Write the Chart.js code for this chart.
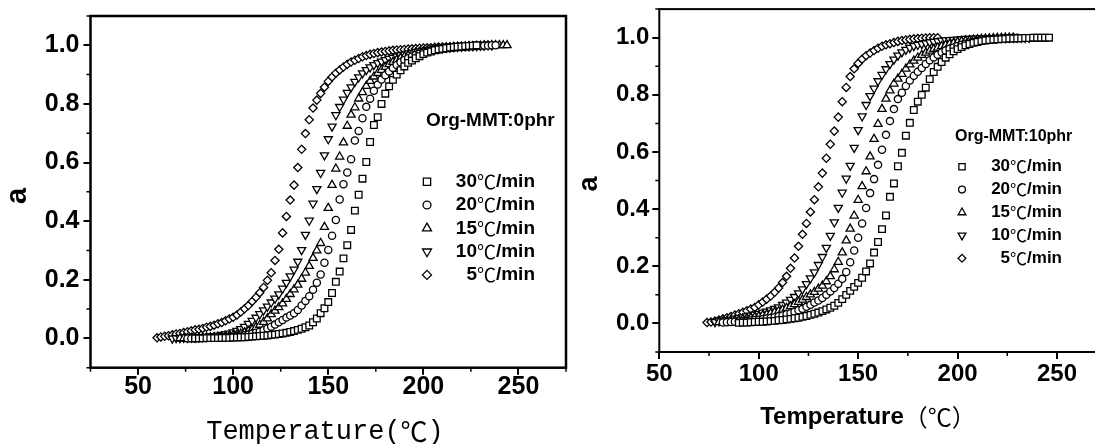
<!DOCTYPE html>
<html>
<head>
<meta charset="utf-8">
<script src="https://cdn.jsdelivr.net/npm/chart.js@4.4.1/dist/chart.umd.min.js"></script>
<style>
  html, body { margin: 0; padding: 0; background: #fff; overflow: hidden; width: 1095px; height: 444px; }
  canvas { position: absolute; top: 0; }
  #left { left: 0; }
  #right { left: 575px; }
</style>
</head>
<body>
<canvas id="left" width="575" height="444"></canvas>
<canvas id="right" width="545" height="444"></canvas>
<script>
// DADES
const rateLabels = ["30℃/min", "20℃/min", "15℃/min", "10℃/min", "5℃/min"];

// panell esquerre: Org-MMT 0phr
const tempLeft = [
  60, 62, 64, 66, 68, 70, 72, 74, 76, 78,
  80, 82, 84, 86, 88, 90, 92, 94, 96, 98,
  100, 102, 104, 106, 108, 110, 112, 114, 116, 118,
  120, 122, 124, 126, 128, 130, 132, 134, 136, 138,
  140, 142, 144, 146, 148, 150, 152, 154, 156, 158,
  160, 162, 164, 166, 168, 170, 172, 174, 176, 178,
  180, 182, 184, 186, 188, 190, 192, 194, 196, 198,
  200, 202, 204, 206, 208, 210, 212, 214, 216, 218,
  220, 222, 224, 226, 228, 230, 232, 234, 236, 238,
  240, 242, 244
];
const left30 = [
  null, null, null, null, null, null, null, null, null, null,
  0.000, 0.000, 0.000, 0.001, 0.001, 0.001, 0.001, 0.002, 0.002, 0.002,
  0.003, 0.003, 0.004, 0.004, 0.005, 0.006, 0.007, 0.008, 0.009, 0.010,
  0.012, 0.013, 0.015, 0.017, 0.019, 0.022, 0.025, 0.029, 0.033, 0.038,
  0.044, 0.055, 0.068, 0.086, 0.103, 0.124, 0.155, 0.193, 0.228, 0.273,
  0.318, 0.370, 0.436, 0.490, 0.545, 0.602, 0.670, 0.728, 0.755, 0.800,
  0.835, 0.860, 0.882, 0.900, 0.915, 0.928, 0.940, 0.948, 0.956, 0.963,
  0.970, 0.975, 0.979, 0.983, 0.986, 0.988, 0.990, 0.992, 0.994, 0.995,
  0.996, 0.997, 0.998, 0.999, 1.000, null, null, null, null, null,
  null, null, null
];
const left20 = [
  null, null, null, null, null, null, null, null, 0.000, 0.000,
  0.000, 0.001, 0.001, 0.001, 0.002, 0.002, 0.003, 0.003, 0.004, 0.005,
  0.006, 0.007, 0.009, 0.011, 0.013, 0.016, 0.019, 0.023, 0.028, 0.034,
  0.040, 0.047, 0.055, 0.063, 0.071, 0.078, 0.086, 0.097, 0.112, 0.128,
  0.144, 0.166, 0.190, 0.218, 0.258, 0.302, 0.350, 0.404, 0.474, 0.526,
  0.566, 0.611, 0.675, 0.708, 0.751, 0.790, 0.818, 0.845, 0.866, 0.883,
  0.898, 0.911, 0.923, 0.933, 0.942, 0.950, 0.956, 0.962, 0.967, 0.971,
  0.975, 0.978, 0.981, 0.984, 0.986, 0.988, 0.990, 0.991, 0.992, 0.993,
  0.994, 0.995, 0.996, 0.997, 0.998, 0.998, 0.999, 0.999, 1.000, 1.000,
  null, null, null
];
const left15 = [
  null, null, null, null, null, null, 0.000, 0.000, 0.001, 0.001,
  0.001, 0.002, 0.002, 0.003, 0.003, 0.004, 0.005, 0.006, 0.007, 0.009,
  0.011, 0.013, 0.016, 0.020, 0.025, 0.031, 0.038, 0.046, 0.056, 0.068,
  0.082, 0.094, 0.106, 0.119, 0.134, 0.151, 0.167, 0.183, 0.203, 0.224,
  0.247, 0.274, 0.300, 0.325, 0.380, 0.445, 0.523, 0.579, 0.620, 0.668,
  0.725, 0.763, 0.788, 0.818, 0.840, 0.861, 0.878, 0.893, 0.905, 0.916,
  0.926, 0.935, 0.943, 0.950, 0.956, 0.961, 0.965, 0.969, 0.973, 0.976,
  0.979, 0.982, 0.984, 0.986, 0.988, 0.989, 0.990, 0.992, 0.993, 0.994,
  0.995, 0.996, 0.997, 0.997, 0.998, 0.998, 0.999, 0.999, 1.000, 1.000,
  1.000, 1.000, 1.000
];
const left10 = [
  null, null, null, null, 0.000, 0.001, 0.001, 0.002, 0.002, 0.003,
  0.003, 0.004, 0.005, 0.006, 0.007, 0.008, 0.010, 0.012, 0.014, 0.017,
  0.021, 0.026, 0.032, 0.040, 0.050, 0.060, 0.071, 0.083, 0.096, 0.109,
  0.123, 0.136, 0.151, 0.170, 0.190, 0.212, 0.235, 0.262, 0.302, 0.354,
  0.402, 0.460, 0.510, 0.565, 0.625, 0.680, 0.723, 0.762, 0.790, 0.815,
  0.838, 0.857, 0.876, 0.891, 0.905, 0.916, 0.925, 0.933, 0.940, 0.945,
  0.950, 0.954, 0.958, 0.962, 0.966, 0.969, 0.972, 0.975, 0.978, 0.980,
  0.982, 0.984, 0.986, 0.988, 0.989, 0.990, 0.992, 0.993, 0.994, 0.995,
  0.996, 0.997, 0.997, 0.998, 0.998, 0.999, 0.999, 1.000, 1.000, null,
  null, null, null
];
const left5 = [
  0.002, 0.005, 0.007, 0.009, 0.012, 0.015, 0.017, 0.020, 0.023, 0.026,
  0.029, 0.031, 0.034, 0.038, 0.041, 0.045, 0.050, 0.054, 0.060, 0.066,
  0.072, 0.080, 0.090, 0.101, 0.112, 0.126, 0.140, 0.156, 0.174, 0.198,
  0.224, 0.266, 0.304, 0.360, 0.416, 0.472, 0.523, 0.583, 0.645, 0.699,
  0.746, 0.786, 0.813, 0.836, 0.857, 0.877, 0.892, 0.905, 0.916, 0.926,
  0.935, 0.943, 0.949, 0.955, 0.961, 0.965, 0.969, 0.972, 0.975, 0.977,
  0.979, 0.981, 0.983, 0.984, 0.985, 0.986, 0.987, 0.988, 0.989, 0.990,
  0.991, 0.992, 0.992, 0.993, 0.994, 0.994, 0.995, 0.995, 0.996, 0.996,
  0.997, 0.997, 0.998, 0.998, 0.999, 0.999, 1.000, 1.000, 1.000, null,
  null, null, null
];

// panell dret: Org-MMT 10phr
const tempRight = [
  74, 76, 78, 80, 82, 84, 86, 88, 90, 92,
  94, 96, 98, 100, 102, 104, 106, 108, 110, 112,
  114, 116, 118, 120, 122, 124, 126, 128, 130, 132,
  134, 136, 138, 140, 142, 144, 146, 148, 150, 152,
  154, 156, 158, 160, 162, 164, 166, 168, 170, 172,
  174, 176, 178, 180, 182, 184, 186, 188, 190, 192,
  194, 196, 198, 200, 202, 204, 206, 208, 210, 212,
  214, 216, 218, 220, 222, 224, 226, 228, 230, 232,
  234, 236, 238, 240, 242, 244, 246
];
const right30 = [
  null, null, null, null, null, null, null, null, 0.002, 0.003,
  0.003, 0.004, 0.005, 0.006, 0.006, 0.007, 0.008, 0.009, 0.011, 0.012,
  0.014, 0.016, 0.018, 0.020, 0.023, 0.026, 0.030, 0.034, 0.038, 0.043,
  0.049, 0.055, 0.062, 0.072, 0.085, 0.100, 0.114, 0.128, 0.142, 0.160,
  0.182, 0.210, 0.248, 0.285, 0.330, 0.378, 0.443, 0.490, 0.550, 0.597,
  0.657, 0.702, 0.747, 0.776, 0.800, 0.825, 0.855, 0.880, 0.898, 0.915,
  0.930, 0.942, 0.952, 0.960, 0.967, 0.973, 0.978, 0.982, 0.985, 0.988,
  0.990, 0.992, 0.993, 0.994, 0.995, 0.996, 0.997, 0.997, 0.998, 0.998,
  0.999, 0.999, 1.000, 1.000, 1.000, 1.000, 1.000
];
const right20 = [
  null, null, null, null, 0.003, 0.004, 0.005, 0.006, 0.007, 0.008,
  0.009, 0.010, 0.012, 0.013, 0.015, 0.017, 0.019, 0.022, 0.025, 0.028,
  0.032, 0.036, 0.041, 0.046, 0.051, 0.058, 0.065, 0.073, 0.080, 0.089,
  0.100, 0.112, 0.124, 0.139, 0.156, 0.180, 0.214, 0.255, 0.300, 0.350,
  0.404, 0.456, 0.505, 0.555, 0.608, 0.660, 0.708, 0.750, 0.785, 0.807,
  0.831, 0.850, 0.867, 0.881, 0.894, 0.908, 0.921, 0.931, 0.940, 0.948,
  0.955, 0.961, 0.966, 0.971, 0.975, 0.979, 0.983, 0.986, 0.988, 0.990,
  0.992, 0.994, 0.995, 0.996, 0.997, 0.998, 0.999, 1.000, 1.000, null,
  null, null, null, null, null, null, null
];
const right15 = [
  null, null, null, 0.004, 0.006, 0.007, 0.009, 0.010, 0.012, 0.014,
  0.016, 0.019, 0.022, 0.025, 0.028, 0.031, 0.035, 0.039, 0.043, 0.048,
  0.054, 0.060, 0.067, 0.075, 0.083, 0.092, 0.101, 0.110, 0.121, 0.132,
  0.147, 0.165, 0.189, 0.215, 0.248, 0.290, 0.331, 0.377, 0.432, 0.480,
  0.532, 0.584, 0.645, 0.698, 0.750, 0.786, 0.815, 0.839, 0.856, 0.873,
  0.891, 0.906, 0.919, 0.930, 0.939, 0.947, 0.954, 0.960, 0.965, 0.970,
  0.974, 0.978, 0.981, 0.984, 0.987, 0.989, 0.991, 0.993, 0.994, 0.995,
  0.996, 0.997, 0.998, 0.999, 0.999, 1.000, 1.000, 1.000, null, null,
  null, null, null, null, null, null, null
];
const right10 = [
  null, null, 0.005, 0.008, 0.010, 0.012, 0.014, 0.017, 0.020, 0.022,
  0.025, 0.028, 0.031, 0.034, 0.038, 0.042, 0.046, 0.051, 0.057, 0.065,
  0.073, 0.083, 0.093, 0.106, 0.120, 0.138, 0.158, 0.179, 0.205, 0.233,
  0.265, 0.307, 0.354, 0.405, 0.458, 0.507, 0.552, 0.615, 0.677, 0.725,
  0.765, 0.796, 0.822, 0.848, 0.870, 0.890, 0.908, 0.924, 0.938, 0.949,
  0.958, 0.965, 0.971, 0.975, 0.978, 0.981, 0.984, 0.986, 0.988, 0.990,
  0.991, 0.992, 0.993, 0.994, 0.995, 0.996, 0.996, 0.997, 0.997, 0.998,
  0.998, 0.998, 0.999, 0.999, 0.999, 0.999, 1.000, 1.000, 1.000, 1.000,
  1.000, 1.000, null, null, null, null, null
];
const right5 = [
  0.003, 0.005, 0.008, 0.012, 0.016, 0.020, 0.024, 0.029, 0.034, 0.039,
  0.044, 0.050, 0.056, 0.065, 0.075, 0.085, 0.096, 0.109, 0.124, 0.143,
  0.165, 0.193, 0.229, 0.270, 0.312, 0.350, 0.390, 0.433, 0.478, 0.526,
  0.578, 0.627, 0.673, 0.722, 0.776, 0.826, 0.864, 0.891, 0.910, 0.925,
  0.937, 0.946, 0.955, 0.963, 0.970, 0.975, 0.979, 0.983, 0.987, 0.990,
  0.992, 0.994, 0.996, 0.997, 0.998, 0.999, 1.000, 1.000, 1.000, null,
  null, null, null, null, null, null, null, null, null, null,
  null, null, null, null, null, null, null, null, null, null,
  null, null, null, null, null, null, null
];

// ESTILS
const SANS = "'Liberation Sans', Arial, sans-serif";
const MONO = "'Liberation Mono', 'Courier New', monospace";
const CJK = "'Noto Sans CJK SC', 'Noto Sans CJK JP', sans-serif";

// un marcador per serie, en l'ordre de rateLabels
const markers = [
  { style: "rect", rotation: 0, radius: 4.7 },
  { style: "circle", rotation: 0, radius: 3.6 },
  { style: "triangle", rotation: 0, radius: 4.7 },
  { style: "triangle", rotation: 180, radius: 4.7 },
  { style: "rectRot", rotation: 0, radius: 4.1 }
];

function toPoints(temps, vals) {
  const pts = [];
  temps.forEach((t, i) => {
    if (vals[i] !== null && vals[i] !== undefined) pts.push({ x: t, y: vals[i] });
  });
  return pts;
}

function majorY(v) {
  const k = Math.round(v * 10);
  return Math.abs(v * 10 - k) < 1e-6 && k >= 0 && k <= 10 && k % 2 === 0;
}
function majorX(v) {
  return Math.abs(v % 50) < 1e-6;
}

// text amb trams CJK (℃, parèntesis amples) en una altra font
function drawRich(ctx, text, latinFont, cjkFont, x, y, align) {
  const runs = [];
  for (const ch of text) {
    const cjk = "℃（）".includes(ch);
    const last = runs[runs.length - 1];
    if (last && last.cjk === cjk) last.t += ch;
    else runs.push({ t: ch, cjk: cjk });
  }
  let total = 0;
  runs.forEach((r) => {
    ctx.font = r.cjk ? cjkFont : latinFont;
    r.w = ctx.measureText(r.t).width;
    total += r.w;
  });
  let cx = align === "right" ? x - total : align === "center" ? x - total / 2 : x;
  ctx.textAlign = "left";
  runs.forEach((r) => {
    ctx.font = r.cjk ? cjkFont : latinFont;
    ctx.fillText(r.t, cx, y);
    cx += r.w;
  });
}

function drawMarker(ctx, m, x, y, scale) {
  ctx.save();
  ctx.fillStyle = "#fff";
  ctx.strokeStyle = "#000";
  ctx.lineWidth = 1.3;
  Chart.helpers.drawPoint(ctx, {
    pointStyle: m.style,
    rotation: m.rotation,
    radius: m.radius * scale,
    borderWidth: 1.3
  }, x, y);
  ctx.restore();
}

function framePlugin(look) {
  return {
    id: "frame_" + look.name,
    afterDraw(chart) {
      const ctx = chart.ctx;
      const a = chart.chartArea;
      const sx = chart.scales.x;
      const sy = chart.scales.y;
      ctx.save();
      ctx.strokeStyle = "#000";
      ctx.lineWidth = look.frameW;
      ctx.strokeRect(a.left, a.top, a.right - a.left, a.bottom - a.top);

      // ticks menors
      ctx.lineWidth = 1.5;
      ctx.beginPath();
      sx.ticks.forEach((t) => {
        if (!majorX(t.value)) {
          const p = sx.getPixelForValue(t.value);
          ctx.moveTo(p, a.bottom);
          ctx.lineTo(p, a.bottom + 4);
        }
      });
      sy.ticks.forEach((t) => {
        if (!majorY(t.value)) {
          const p = sy.getPixelForValue(t.value);
          ctx.moveTo(a.left - 4, p);
          ctx.lineTo(a.left, p);
        }
      });
      ctx.stroke();

      // titols dels eixos
      ctx.fillStyle = "#000";
      ctx.textBaseline = "middle";
      drawRich(ctx, look.xTitle, look.xTitleLatin, look.xTitleCjk, look.xTitleX, look.xTitleY, "center");
      ctx.save();
      ctx.translate(look.yTitleX, look.yTitleY);
      ctx.rotate(-Math.PI / 2);
      ctx.font = look.yTitleFont;
      ctx.textAlign = "center";
      ctx.fillText("a", 0, 0);
      ctx.restore();

      // llegenda
      ctx.font = "bold " + look.legTitleSize + "px " + SANS;
      ctx.textAlign = "left";
      ctx.fillText(look.legTitle, look.legX, look.legTitleY);
      rateLabels.forEach((lab, i) => {
        const y = look.legRowY + i * look.legRowGap;
        drawMarker(ctx, markers[i], look.markX, y, look.legMarkScale);
        ctx.fillStyle = "#000";
        drawRich(ctx, lab, "bold " + look.legSize + "px " + SANS, look.legSize + "px " + CJK, look.legTextRight, y, "right");
      });
      ctx.restore();
    }
  };
}

function buildChart(id, temps, series, look) {
  const datasets = series.map((vals, i) => ({
    label: rateLabels[i],
    data: toPoints(temps, vals),
    pointStyle: markers[i].style,
    pointRotation: markers[i].rotation,
    pointRadius: markers[i].radius,
    pointBorderWidth: 1.3,
    pointBorderColor: "#000",
    pointBackgroundColor: "#fff",
    showLine: false
  }));

  const tickFont = (c) => ({
    family: SANS,
    size: c.tick && (c.scale.axis === "x" ? majorX(c.tick.value) : majorY(c.tick.value)) ? look.tickSize : 2,
    weight: "bold",
    lineHeight: 1
  });

  return new Chart(document.getElementById(id), {
    type: "scatter",
    data: { datasets: datasets },
    options: {
      responsive: false,
      animation: false,
      devicePixelRatio: 1,
      layout: { padding: { left: 0, top: look.top, right: look.right, bottom: 0 } },
      plugins: { legend: { display: false }, tooltip: { enabled: false } },
      scales: {
        x: {
          type: "linear",
          min: look.xMin,
          max: 275,
          afterFit: (s) => { s.height = look.xAxisH; },
          ticks: {
            stepSize: 25,
            autoSkip: false,
            maxRotation: 0,
            padding: look.xPad,
            color: "#000",
            font: tickFont,
            callback: (v) => (majorX(v) ? String(v) : "")
          },
          grid: {
            drawOnChartArea: false,
            tickLength: look.tickLen,
            lineWidth: 2,
            color: (c) => (c.tick && majorX(c.tick.value) ? "#000" : "rgba(0,0,0,0)")
          },
          border: { display: false }
        },
        y: {
          type: "linear",
          min: -0.1,
          max: 1.1,
          afterFit: (s) => { s.width = look.yAxisW; },
          ticks: {
            stepSize: 0.1,
            autoSkip: false,
            padding: look.yPad,
            color: "#000",
            font: tickFont,
            callback: (v) => (majorY(v) ? (Math.round(v * 10) / 10).toFixed(1) : "")
          },
          grid: {
            drawOnChartArea: false,
            tickLength: look.tickLen,
            lineWidth: 2,
            color: (c) => (c.tick && majorY(c.tick.value) ? "#000" : "rgba(0,0,0,0)")
          },
          border: { display: false }
        }
      }
    },
    plugins: [framePlugin(look)]
  });
}

const leftLook = {
  name: "left",
  xMin: 25, top: 16, right: 9, xAxisH: 76.3, yAxisW: 90.5,
  tickSize: 25, tickLen: 7, xPad: 0, yPad: 4, frameW: 2.5,
  xTitle: "Temperature(℃)", xTitleLatin: "27px " + MONO, xTitleCjk: "27px " + CJK,
  xTitleX: 325, xTitleY: 432,
  yTitleX: 18, yTitleY: 196, yTitleFont: "bold 29px " + SANS,
  legTitle: "Org-MMT:0phr", legTitleSize: 19, legX: 426, legTitleY: 121,
  legSize: 19, legRowY: 181.7, legRowGap: 23.3, markX: 427, legTextRight: 535, legMarkScale: 1.1
};

const rightLook = {
  name: "right",
  xMin: 50, top: 9.1, right: 13.3, xAxisH: 92, yAxisW: 84.3,
  tickSize: 24, tickLen: 7, xPad: 3, yPad: 3, frameW: 2,
  xTitle: "Temperature（℃）", xTitleLatin: "bold 24px " + SANS, xTitleCjk: "24px " + CJK,
  xTitleX: 293, xTitleY: 417,
  yTitleX: 15, yTitleY: 184, yTitleFont: "bold 27px " + SANS,
  legTitle: "Org-MMT:10phr", legTitleSize: 16, legX: 380, legTitleY: 137,
  legSize: 17, legRowY: 166.7, legRowGap: 22.9, markX: 387, legTextRight: 487, legMarkScale: 0.95
};

buildChart("left", tempLeft, [left30, left20, left15, left10, left5], leftLook);
buildChart("right", tempRight, [right30, right20, right15, right10, right5], rightLook);
</script>
</body>
</html>
